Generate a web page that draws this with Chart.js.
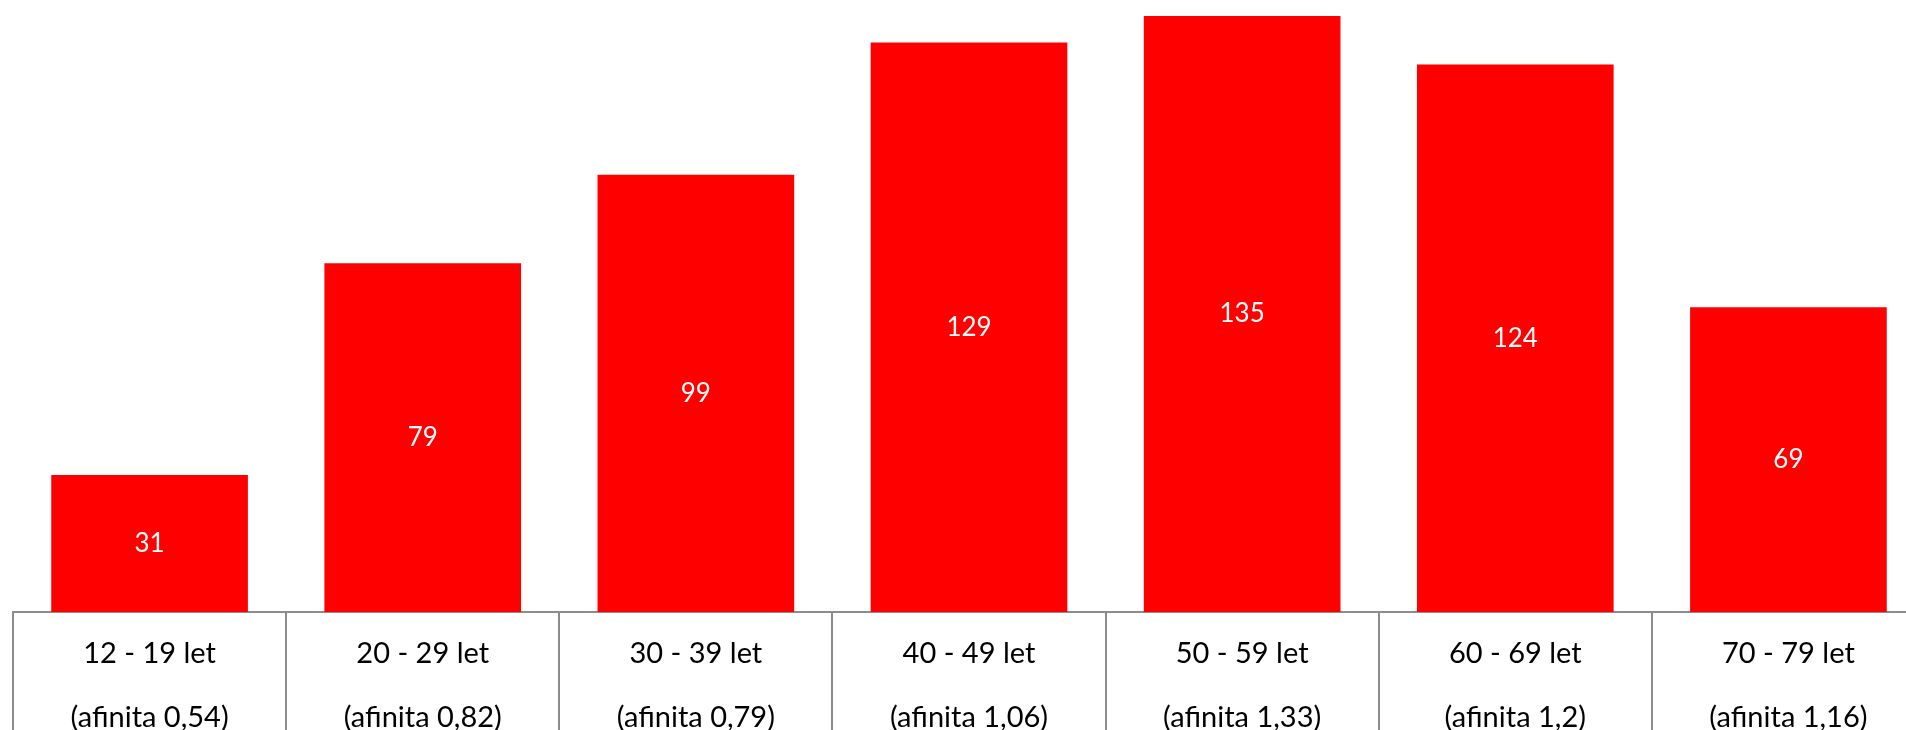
<!DOCTYPE html>
<html>
<head>
<meta charset="utf-8">
<script src="https://cdn.jsdelivr.net/npm/chart.js@4/dist/chart.umd.min.js"></script>
<style>
  html, body { margin: 0; padding: 0; background: #fff; overflow: hidden; width: 1906px; height: 730px; }
  #wrap { width: 1925px; height: 730px; position: relative; }
</style>
</head>
<body>
<div id="wrap"><canvas id="c"></canvas></div>
<script>
const ageGroups = ['12 - 19 let', '20 - 29 let', '30 - 39 let', '40 - 49 let', '50 - 59 let', '60 - 69 let', '70 - 79 let'];
const affinity = ['0,54', '0,82', '0,79', '1,06', '1,33', '1,2', '1,16'];
const values = [31, 79, 99, 129, 135, 124, 69];

const labels = ageGroups.map((g, i) => [g, '(afinita ' + affinity[i] + ')']);

const valueLabels = {
  id: 'valueLabels',
  afterDatasetsDraw(chart) {
    const ctx = chart.ctx;
    const meta = chart.getDatasetMeta(0);
    ctx.save();
    ctx.fillStyle = '#ffffff';
    ctx.font = '26px Lato';
    ctx.textAlign = 'center';
    ctx.textBaseline = 'middle';
    meta.data.forEach((bar, i) => {
      const y = (bar.y + bar.base) / 2;
      ctx.fillText(String(values[i]), bar.x, y);
    });
    ctx.restore();
  }
};

new Chart(document.getElementById('c'), {
  type: 'bar',
  data: {
    labels: labels,
    datasets: [{
      data: values,
      backgroundColor: '#ff0000',
      borderWidth: 0,
      barPercentage: 0.72,
      categoryPercentage: 1.0
    }]
  },
  options: {
    responsive: true,
    maintainAspectRatio: false,
    animation: false,
    layout: { padding: { left: 13, right: 0, top: 0, bottom: 0 } },
    plugins: { legend: { display: false }, tooltip: { enabled: false } },
    scales: {
      y: {
        display: false,
        min: 0,
        max: 138.6
      },
      x: {
        offset: true,
        grid: {
          offset: true,
          drawOnChartArea: false,
          drawTicks: true,
          tickLength: 118,
          color: '#8c8c8c',
          lineWidth: 2
        },
        border: { display: true, color: '#8c8c8c', width: 2 },
        ticks: {
          padding: -108,
          color: '#000000',
          font: { family: 'Lato', size: 29, lineHeight: '64px' },
          maxRotation: 0,
          autoSkip: false
        },
        afterFit(scale) { scale.height = 118; }
      }
    }
  },
  plugins: [valueLabels]
});
</script>
</body>
</html>
